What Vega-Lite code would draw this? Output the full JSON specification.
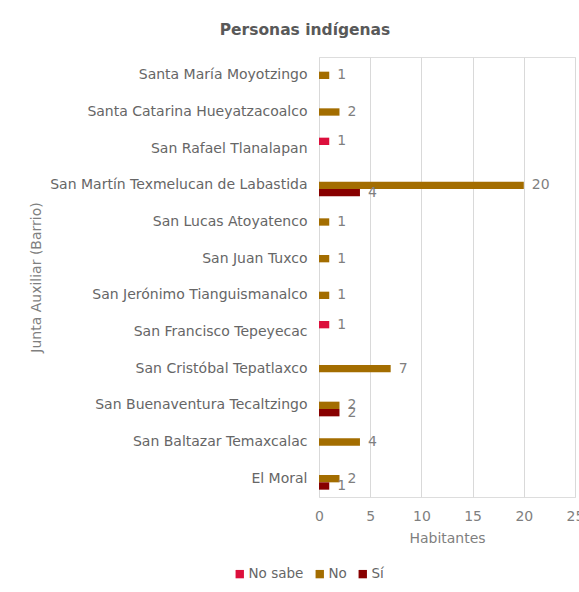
{
  "$schema": "https://vega.github.io/schema/vega-lite/v6.json",
  "autosize": {"type": "none"},
  "width": 256,
  "height": 440,
  "padding": {"left": 319, "top": 57, "right": 4, "bottom": 95},
  "background": "white",
  "title": {
    "text": "Personas indígenas",
    "font": "DejaVu Sans",
    "fontSize": 15.5,
    "fontWeight": "bold",
    "color": "#595959",
    "anchor": "middle",
    "frame": "group",
    "dx": -142,
    "offset": 19
  },
  "data": {
    "values": [
      {"junta": "Santa María Moyotzingo", "resp": "No", "n": 1},
      {"junta": "Santa Catarina Hueyatzacoalco", "resp": "No", "n": 2},
      {"junta": "San Rafael Tlanalapan", "resp": "No sabe", "n": 1},
      {"junta": "San Martín Texmelucan de Labastida", "resp": "No", "n": 20},
      {"junta": "San Martín Texmelucan de Labastida", "resp": "Sí", "n": 4},
      {"junta": "San Lucas Atoyatenco", "resp": "No", "n": 1},
      {"junta": "San Juan Tuxco", "resp": "No", "n": 1},
      {"junta": "San Jerónimo Tianguismanalco", "resp": "No", "n": 1},
      {"junta": "San Francisco Tepeyecac", "resp": "No sabe", "n": 1},
      {"junta": "San Cristóbal Tepatlaxco", "resp": "No", "n": 7},
      {"junta": "San Buenaventura Tecaltzingo", "resp": "No", "n": 2},
      {"junta": "San Buenaventura Tecaltzingo", "resp": "Sí", "n": 2},
      {"junta": "San Baltazar Temaxcalac", "resp": "No", "n": 4},
      {"junta": "El Moral", "resp": "No", "n": 2},
      {"junta": "El Moral", "resp": "Sí", "n": 1}
    ]
  },
  "encoding": {
    "y": {
      "field": "junta",
      "type": "nominal",
      "sort": ["Santa María Moyotzingo", "Santa Catarina Hueyatzacoalco", "San Rafael Tlanalapan", "San Martín Texmelucan de Labastida", "San Lucas Atoyatenco", "San Juan Tuxco", "San Jerónimo Tianguismanalco", "San Francisco Tepeyecac", "San Cristóbal Tepatlaxco", "San Buenaventura Tecaltzingo", "San Baltazar Temaxcalac", "El Moral"],
      "scale": {"paddingInner": 0.4, "paddingOuter": 0.2},
      "axis": {
        "title": "Junta Auxiliar (Barrio)",
        "titleFont": "DejaVu Sans",
        "titleFontSize": 14,
        "titleFontWeight": "normal",
        "titleColor": "#7f7f7f",
        "titlePadding": 76,
        "labelFont": "DejaVu Sans",
        "labelFontSize": 14,
        "labelColor": "#666666",
        "labelPadding": 12,
        "labelLimit": 400,
        "ticks": false,
        "domain": false,
        "grid": false
      }
    },
    "yOffset": {
      "field": "resp",
      "type": "nominal",
      "scale": {"domain": ["No sabe", "No", "Sí"], "paddingInner": 0, "paddingOuter": 0}
    },
    "x": {
      "field": "n",
      "type": "quantitative",
      "scale": {"domain": [0, 25]},
      "axis": {
        "title": "Habitantes",
        "values": [0, 5, 10, 15, 20, 25],
        "titleFont": "DejaVu Sans",
        "titleFontSize": 14,
        "titleFontWeight": "normal",
        "titleColor": "#7f7f7f",
        "titlePadding": 8,
        "labelFont": "DejaVu Sans",
        "labelFontSize": 14,
        "labelColor": "#7f7f7f",
        "labelPadding": 12,
        "labelFlush": false,
        "ticks": false,
        "domain": false,
        "grid": true,
        "gridColor": "#d9d9d9"
      }
    }
  },
  "layer": [
    {
      "mark": {"type": "bar"},
      "encoding": {
        "color": {
          "field": "resp",
          "type": "nominal",
          "scale": {"domain": ["No sabe", "No", "Sí"], "range": ["#dc0f3c", "#a36d00", "#880000"]},
          "legend": {
            "title": null,
            "orient": "none",
            "direction": "horizontal",
            "legendX": -86,
            "legendY": 510,
            "symbolType": "square",
            "symbolSize": 70,
            "symbolStrokeWidth": 0,
            "labelFont": "DejaVu Sans",
            "labelFontSize": 13.5,
            "labelColor": "#666666",
            "labelOffset": 2,
            "columnPadding": 9
          }
        }
      }
    },
    {
      "mark": {"type": "text", "align": "left", "baseline": "middle", "dx": 8, "font": "DejaVu Sans", "fontSize": 14, "color": "#7f7f7f"},
      "encoding": {"text": {"field": "n", "type": "quantitative"}}
    }
  ]
}
